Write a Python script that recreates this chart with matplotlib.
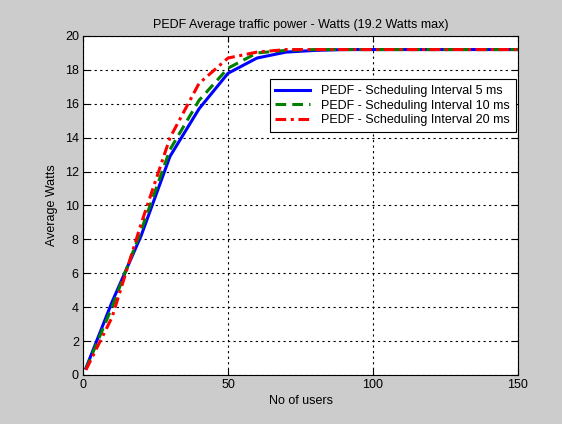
import numpy as np
import matplotlib.pyplot as plt

plt.rcParams['font.family'] = ['Liberation Sans', 'DejaVu Sans']

# valores
usuarios = [1, 10, 20, 30, 40, 50, 60, 70, 80, 90, 100, 110, 120, 130, 140, 150]
watts_5ms = [0.4, 4.3, 8.2, 12.9, 15.7, 17.8, 18.7, 19.05, 19.15, 19.2, 19.2, 19.2, 19.2, 19.2, 19.2, 19.2]
watts_10ms = [0.35, 4.0, 8.5, 13.3, 16.2, 18.1, 19.0, 19.15, 19.2, 19.2, 19.2, 19.2, 19.2, 19.2, 19.2, 19.2]
watts_20ms = [0.3, 3.4, 8.9, 14.0, 17.2, 18.7, 19.05, 19.2, 19.2, 19.2, 19.2, 19.2, 19.2, 19.2, 19.2, 19.2]
etiquetas = ["PEDF - Scheduling Interval 5 ms",
             "PEDF - Scheduling Interval 10 ms",
             "PEDF - Scheduling Interval 20 ms"]

fs = 9

fig = plt.figure(figsize=(5.62, 4.24), dpi=100, facecolor="#cccccc")
ax = fig.add_axes([0.1477, 0.1156, 0.7740, 0.7995])
ax.set_facecolor("white")

ax.plot(usuarios, watts_5ms, color="blue", lw=2.2, ls="-", label=etiquetas[0])
ax.plot(usuarios, watts_10ms, color="green", lw=2.2, ls=(0, (3.5, 2)), label=etiquetas[1])
ax.plot(usuarios, watts_20ms, color="red", lw=2.2, ls=(0, (3.5, 1.5, 1, 1.5)), label=etiquetas[2])

ax.set_xlim(0, 150)
ax.set_ylim(0, 20)
ax.set_xticks([0, 50, 100, 150])
ax.set_yticks(np.arange(0, 21, 2))
ax.grid(True, color="black", ls=(0, (2, 3)), lw=0.8)
ax.tick_params(direction="in", top=True, right=True, labelsize=fs, length=4, width=0.8, pad=3)
for s in ax.spines.values():
    s.set_linewidth(0.8)

ax.set_title("PEDF Average traffic power - Watts (19.2 Watts max)", fontsize=fs, pad=6)
ax.set_xlabel("No of users", fontsize=fs, labelpad=3)
ax.set_ylabel("Average Watts", fontsize=fs, labelpad=5)

leg = ax.legend(loc="upper right", bbox_to_anchor=(0.995, 0.872), fontsize=fs,
                frameon=True, fancybox=False, framealpha=1, edgecolor="black",
                handlelength=2.8, borderpad=0.45, labelspacing=0.2, handletextpad=0.9,
                borderaxespad=0)
leg.get_frame().set_linewidth(0.8)

fig.savefig("out.png", dpi=100, facecolor=fig.get_facecolor())
